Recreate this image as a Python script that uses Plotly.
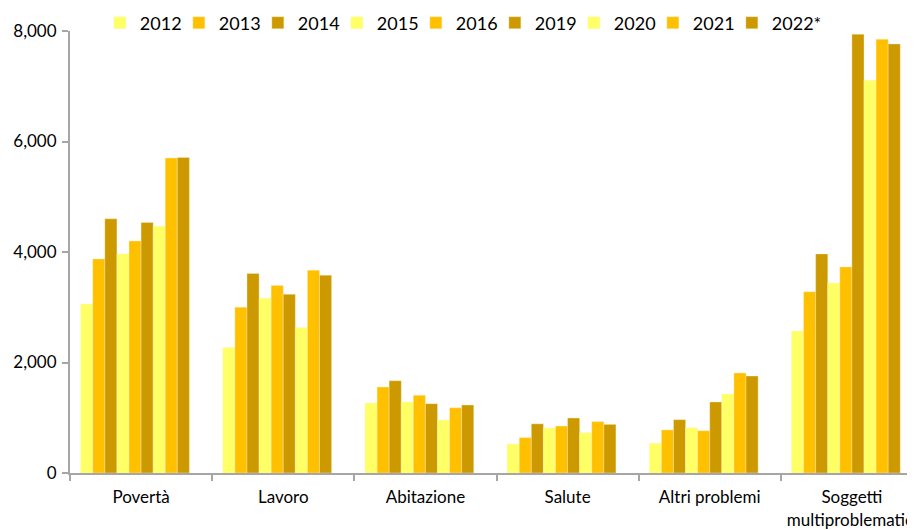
import plotly.graph_objects as go

categories = ["Povertà", "Lavoro", "Abitazione", "Salute", "Altri problemi",
              "Soggetti<br>multiproblematici"]
years = ["2012", "2013", "2014", "2015", "2016", "2019", "2020", "2021", "2022*"]

v2012 = [3060, 2270, 1265, 525, 540, 2570]
v2013 = [3875, 3000, 1555, 640, 780, 3280]
v2014 = [4600, 3610, 1670, 890, 965, 3965]
v2015 = [3965, 3165, 1285, 815, 820, 3440]
v2016 = [4200, 3395, 1405, 850, 765, 3730]
v2019 = [4535, 3235, 1255, 995, 1285, 7940]
v2020 = [4465, 2635, 960, 730, 1430, 7110]
v2021 = [5700, 3670, 1180, 930, 1810, 7850]
v2022 = [5710, 3580, 1230, 880, 1755, 7765]

series = [v2012, v2013, v2014, v2015, v2016, v2019, v2020, v2021, v2022]
colors = ["#FFFF66", "#FFC000", "#CC9900"] * 3

fig = go.Figure()
for name, vals, col in zip(years, series, colors):
    fig.add_trace(go.Bar(
        name=name, x=categories, y=vals,
        marker=dict(color=col, line=dict(color="rgba(255,240,200,0.6)", width=0.6)),
    ))
# invisible spacer entry so the last legend label is not clipped
fig.add_trace(go.Bar(name=" ", x=[None], y=[None], showlegend=True,
                     marker=dict(color="rgba(0,0,0,0)", line=dict(width=0)),
                     hoverinfo="skip"))

font_family = "Lato, 'Open Sans', sans-serif"
fig.update_layout(
    width=915, height=530,
    margin=dict(l=62, r=0, t=23, b=65, autoexpand=False),
    paper_bgcolor="white", plot_bgcolor="white",
    barmode="group", bargap=0.15, bargroupgap=0,
    font=dict(family=font_family, size=17, color="#000000"),
    showlegend=True,
    legend=dict(orientation="h", x=0.035, y=1.018, xanchor="left", yanchor="middle",
                font=dict(size=18), entrywidth=34, traceorder="normal",
                bgcolor="rgba(0,0,0,0)", itemwidth=30, tracegroupgap=0),
    xaxis=dict(range=[-0.5, 5.5], showline=True, linecolor="#A6A6A6", linewidth=2,
               ticks="outside", ticklen=6, tickcolor="#A6A6A6", tickwidth=2,
               tickson="boundaries", ticklabelstandoff=8,
               showgrid=False, fixedrange=True, automargin=False),
    yaxis=dict(range=[0, 8000], tickvals=[0, 2000, 4000, 6000, 8000],
               tickformat=",d", showline=True, linecolor="#A6A6A6", linewidth=2,
               ticks="outside", ticklen=6, tickcolor="#A6A6A6", tickwidth=2,
               ticklabelstandoff=2, automargin=False,
               showgrid=False, zeroline=False, fixedrange=True),
)

fig.write_html("out.html")
